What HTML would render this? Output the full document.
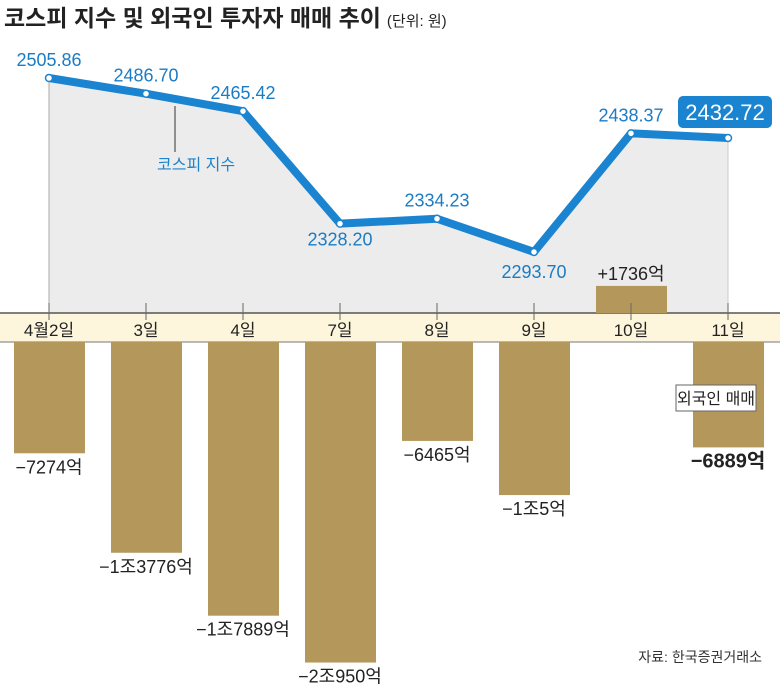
<!DOCTYPE html>
<html><head><meta charset="utf-8"><style>
body{margin:0;background:#fff;}
svg{display:block;font-family:"Liberation Sans","Noto Sans CJK KR",sans-serif;}
</style></head><body>
<svg id="chart" width="780" height="687" viewBox="0 0 780 687">
<text x="4" y="26" font-size="23" font-weight="bold" fill="#222">코스피 지수 및 외국인 투자자 매매 추이<tspan font-size="15" font-weight="normal" dx="6">(단위: 원)</tspan></text>
<g id="area"></g>
<rect x="0" y="313" width="780" height="29" fill="#fdf6dc"/>
<line x1="0" y1="313" x2="780" y2="313" stroke="#555" stroke-width="1.5"/>
<line x1="0" y1="342" x2="780" y2="342" stroke="#777" stroke-width="1"/>
<g id="bars"></g><g id="line"></g>
<line x1="175" y1="106" x2="175" y2="152" stroke="#333" stroke-width="1"/>
<text x="157" y="170" font-size="16" fill="#1b84cc">코스피 지수</text>
<rect x="676" y="385" width="80" height="26" fill="#fff" stroke="#666"/>
<text x="716" y="404" font-size="16" fill="#222" text-anchor="middle">외국인 매매</text>
<text x="762" y="662" font-size="14" fill="#333" text-anchor="end">자료: 한국증권거래소</text>
</svg>
<script>
const categories=["4월2일","3일","4일","7일","8일","9일","10일","11일"];
const kospi=[2505.86,2486.70,2465.42,2328.20,2334.23,2293.70,2438.37,2432.72];
const kospiLabels=["2505.86","2486.70","2465.42","2328.20","2334.23","2293.70","2438.37","2432.72"];
const foreign=[-7274,-13776,-17889,-20950,-6465,-10005,1736,-6889];
const foreignLabels=["−7274억","−1조3776억","−1조7889억","−2조950억","−6465억","−1조5억","+1736억","−6889억"];
const NS="http://www.w3.org/2000/svg";
const xs=i=>49+i*97;
const yk=v=>78+(2505.86-v)*0.82;
const yb=v=>v>=0?313-v*0.0156:342-v*0.0153;
function mk(tag,attrs,parent){const e=document.createElementNS(NS,tag);for(const k in attrs)e.setAttribute(k,attrs[k]);parent.appendChild(e);return e;}
const area=document.getElementById('area'),bars=document.getElementById('bars'),line=document.getElementById('line');
let pts=kospi.map((v,i)=>xs(i)+","+yk(v)).join(" ");
const poly=mk('polygon',{points:xs(0)+",313 "+pts+" "+xs(7)+",313",fill:"#ececec"},area);


const el=mk('line',{x1:xs(0),y1:yk(kospi[0]),x2:xs(0),y2:313,stroke:"#aaa","stroke-width":1},area);


const er=mk('line',{x1:xs(7),y1:yk(kospi[7]),x2:xs(7),y2:313,stroke:"#ccc","stroke-width":1},area);


categories.forEach((c,i)=>{
 const v=foreign[i];
 const y0=v>=0?yb(v):342, h=v>=0?313-yb(v):yb(v)-342;
 const r=mk('rect',{x:xs(i)-35,y:y0,width:71,height:h,fill:"#b4985b"},bars);
 
 
 const t=mk('line',{x1:xs(i),y1:303,x2:xs(i),y2:320,stroke:"#666","stroke-width":1},bars);
 
 
 const tl=mk('text',{x:xs(i),y:336,"font-size":17,"text-anchor":"middle",fill:"#222"},bars);
 tl.textContent=c;
 
 
 const lt=mk('text',{x:xs(i),y:v>=0?y0-6:y0+h+20,"font-size":i==7?20:18,"font-weight":i==7?"bold":"normal","text-anchor":"middle",fill:"#222"},bars);
 lt.textContent=foreignLabels[i];
 
 
});
const pl=mk('polyline',{points:pts,fill:"none",stroke:"#1b84d0","stroke-width":8,"stroke-linejoin":"round"},line);


const off=[[0,-12],[0,-12],[0,-12],[0,22],[0,-12],[0,26],[0,-12],[0,0]];
kospi.forEach((v,i)=>{
 const c=mk('circle',{cx:xs(i),cy:yk(v),r:3.5,fill:"#fff",stroke:"#1b84d0","stroke-width":1.5},line);
 
 
 if(i==7){
  const b=mk('rect',{x:678,y:96,width:94,height:32,rx:5,fill:"#1b84d0"},line);
  
  
  const t=mk('text',{x:725,y:120,"font-size":22,"text-anchor":"middle",fill:"#fff"},line);
  t.textContent=kospiLabels[i];
  
  
 } else {
  const t=mk('text',{x:xs(i)+off[i][0],y:yk(v)+off[i][1],"font-size":18,"text-anchor":"middle",fill:"#1b7cc4"},line);
  t.textContent=kospiLabels[i];
  
  
 }
});
</script>
</body></html>
